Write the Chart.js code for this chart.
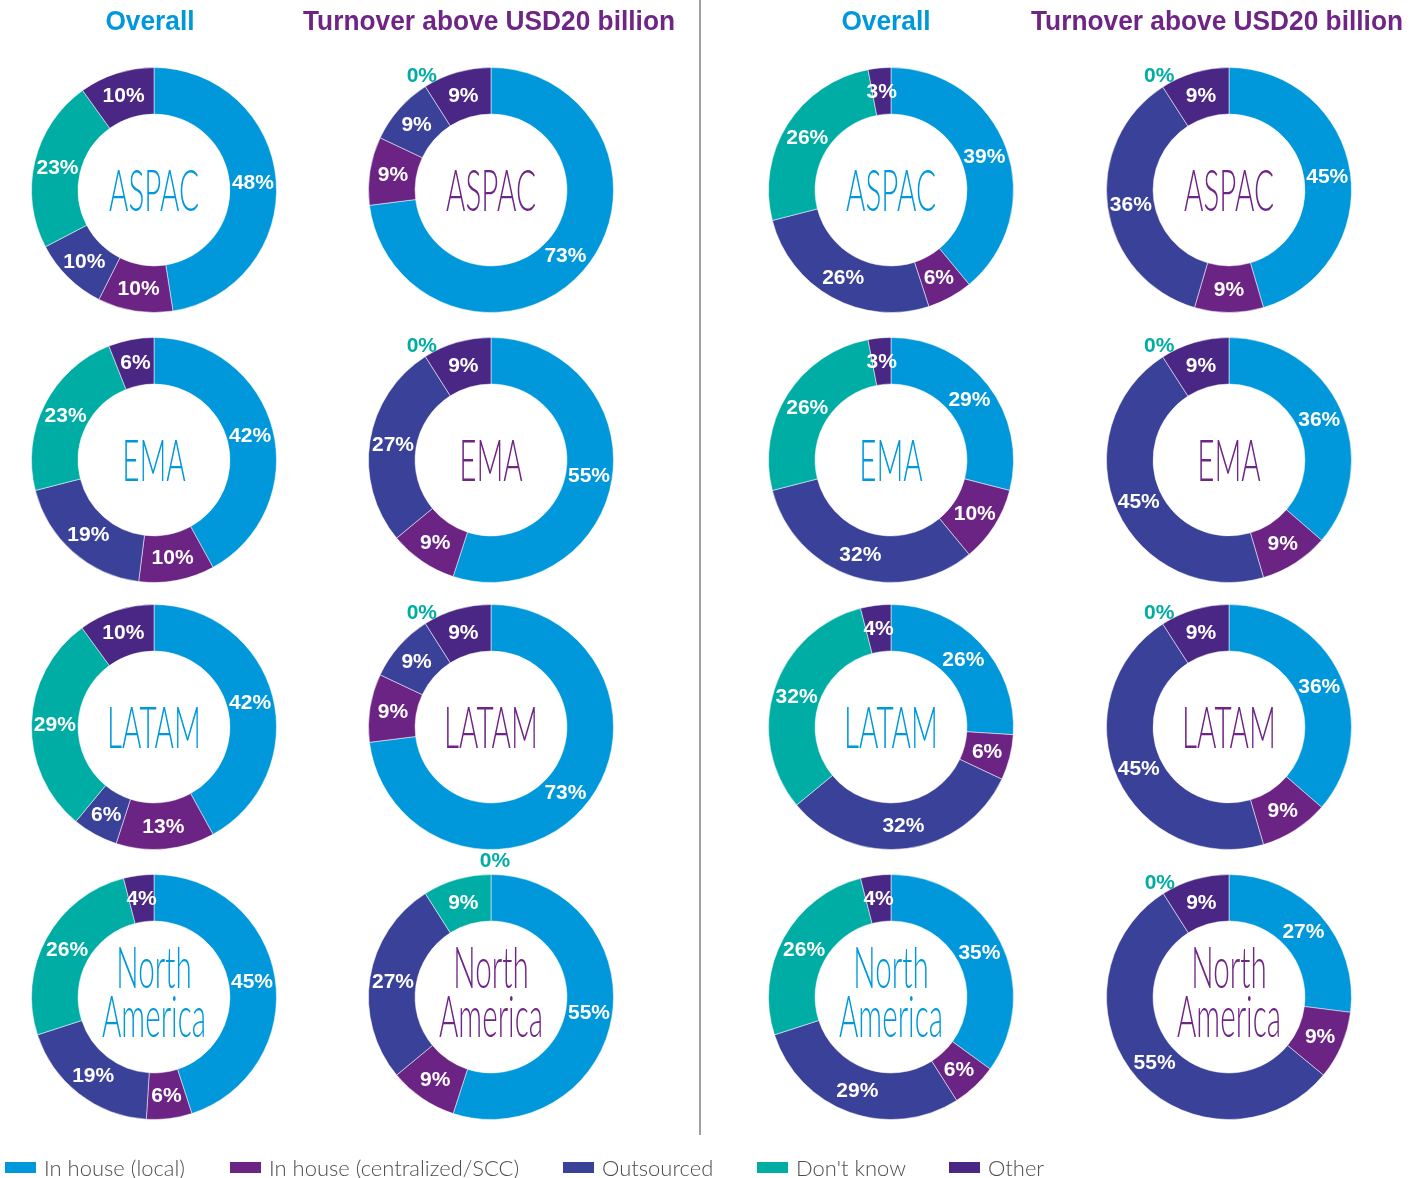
<!DOCTYPE html>
<html>
<head>
<meta charset="utf-8">
<script src="https://cdn.jsdelivr.net/npm/chart.js@4.4.1/dist/chart.umd.min.js"></script>
<style>
  body { margin: 0; background: #fff; width: 1420px; height: 1178px; position: relative; overflow: hidden; }
  #bg { position: absolute; left: 0; top: 0; }
  .pie { position: absolute; }
</style>
</head>
<body>
<canvas id="bg" width="1420" height="1178"></canvas>
<script>
// Data
const segments = ['In house (local)', 'In house (centralized/SCC)', 'Outsourced', "Don't know", 'Other'];
const regions = ['ASPAC', 'EMA', 'LATAM', 'North America'];
const panelTitles = ['Overall', 'Turnover above USD20 billion', 'Overall', 'Turnover above USD20 billion'];

// one row per region, values in the order of segments
const leftOverall = [
  [48, 10, 10, 23, 10],
  [42, 10, 19, 23, 6],
  [42, 13, 6, 29, 10],
  [45, 6, 19, 26, 4]
];
const leftTurnover = [
  [73, 9, 9, 0, 9],
  [55, 9, 27, 0, 9],
  [73, 9, 9, 0, 9],
  [55, 9, 27, 9, 0]
];
const rightOverall = [
  [39, 6, 26, 26, 3],
  [29, 10, 32, 26, 3],
  [26, 6, 32, 32, 4],
  [35, 6, 29, 26, 4]
];
const rightTurnover = [
  [45, 9, 36, 0, 9],
  [36, 9, 45, 0, 9],
  [36, 9, 45, 0, 9],
  [27, 9, 55, 0, 9]
];
const panels = [leftOverall, leftTurnover, rightOverall, rightTurnover];

// colours
const segColors = ['#0098DA', '#6C2484', '#3A4199', '#00ADA4', '#4A2784'];
const titleColors = ['#0098DA', '#6E2585', '#0098DA', '#6E2585'];

// layout
const colX = [154, 491, 891, 1229];
const rowY = [190, 460, 727, 997];
const titleX = [150, 489, 886, 1217];
const legendX = [5, 230, 563, 757, 949];
const SIZE = 300;

// labels on the ring + region name in the hole
const ringLabels = {
  id: 'ringLabels',
  afterDatasetsDraw(chart, args, opts) {
    const ctx = chart.ctx;
    const meta = chart.getDatasetMeta(0);
    const values = chart.data.datasets[0].data;
    ctx.save();
    ctx.font = 'bold 21px "Liberation Sans", Arial, sans-serif';
    ctx.textAlign = 'center';
    ctx.textBaseline = 'middle';
    meta.data.forEach((arc, i) => {
      const v = values[i];
      if (v > 0) {
        const p = arc.getCenterPoint();
        ctx.fillStyle = '#fff';
        ctx.fillText(v + '%', p.x, p.y + 1);
      } else {
        // zero slices get their label outside the ring
        const r = arc.outerRadius + 14;
        ctx.fillStyle = segColors[3];
        ctx.fillText('0%', arc.x + r * Math.cos(arc.startAngle) + 4, arc.y + r * Math.sin(arc.startAngle) + 1);
      }
    });

    // region name, thin and condensed
    const cx = meta.data[0].x, cy = meta.data[0].y;
    const lines = opts.name.split(' ');
    ctx.font = '300 58px Lato, "Open Sans", sans-serif';
    ctx.textAlign = 'center';
    ctx.textBaseline = 'alphabetic';
    ctx.fillStyle = opts.color;
    const sx = 90 / ctx.measureText('ASPAC').width;
    const n = lines.length;
    lines.forEach((ln, i) => {
      const by = cy + 21 - 6 * (n - 1) + (i - (n - 1) / 2) * 49;
      ctx.save();
      ctx.translate(cx, by);
      ctx.scale(sx, 1);
      ctx.fillText(ln, 0, 0);
      ctx.restore();
    });
    ctx.restore();
  }
};

// one doughnut per panel/region
panels.forEach((panel, c) => {
  panel.forEach((vals, r) => {
    const cv = document.createElement('canvas');
    cv.className = 'pie';
    cv.width = SIZE;
    cv.height = SIZE;
    cv.style.left = (colX[c] - SIZE / 2) + 'px';
    cv.style.top = (rowY[r] - SIZE / 2) + 'px';
    document.body.appendChild(cv);
    new Chart(cv, {
      type: 'doughnut',
      data: {
        labels: segments,
        datasets: [{
          data: vals,
          backgroundColor: segColors,
          borderColor: 'rgba(255,255,255,0.5)',
          borderWidth: 1
        }]
      },
      options: {
        responsive: false,
        animation: false,
        devicePixelRatio: 1,
        cutout: '62%',
        layout: { padding: 27 },
        plugins: {
          legend: { display: false },
          tooltip: { enabled: false },
          ringLabels: { name: regions[r], color: titleColors[c] }
        }
      },
      plugins: [ringLabels]
    });
  });
});

// headers, divider and legend
const bg = document.getElementById('bg').getContext('2d');

bg.font = 'bold 27px "Liberation Sans", Arial, sans-serif';
bg.textAlign = 'center';
bg.textBaseline = 'alphabetic';
const hsx = 372 / bg.measureText(panelTitles[1]).width;
panelTitles.forEach((t, i) => {
  bg.save();
  bg.translate(titleX[i], 30);
  bg.scale(hsx, 1);
  bg.fillStyle = titleColors[i];
  bg.fillText(t, 0, 0);
  bg.restore();
});

bg.strokeStyle = '#808080';
bg.lineWidth = 1.5;
bg.beginPath();
bg.moveTo(700, 0);
bg.lineTo(700, 1135);
bg.stroke();

bg.font = '300 21px Lato, "Liberation Sans", Arial, sans-serif';
bg.textAlign = 'left';
const lsx = 141 / bg.measureText(segments[0]).width;
segments.forEach((s, i) => {
  bg.fillStyle = segColors[i];
  bg.fillRect(legendX[i], 1162, 31, 11);
  bg.save();
  bg.translate(legendX[i] + 39, 1176);
  bg.scale(lsx, 1);
  bg.fillStyle = '#4d4d4d';
  bg.fillText(s, 0, 0);
  bg.restore();
});
</script>
</body>
</html>
